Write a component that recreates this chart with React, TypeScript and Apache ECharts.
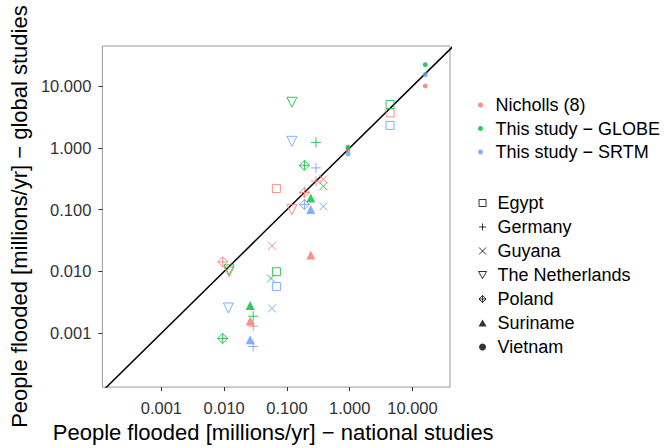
import React, { useEffect, useRef } from "react";
import * as echarts from "echarts";

// ---- data ----
const sources = ["Nicholls (8)", "This study − GLOBE", "This study − SRTM"];
const countries = ["Egypt", "Germany", "Guyana", "The Netherlands", "Poland", "Suriname", "Vietnam"];
const tickValues = [0.001, 0.01, 0.1, 1, 10];
const xRange = [1.15e-4, 39.6];
const yRange = [1.34e-4, 44.8];
const identityLine = [1e-6, 1e4];

// [country, national studies, global studies]
const nichollsPoints: [string, number, number][] = [
  ["Egypt", 4.4, 3.7], ["Egypt", 0.068, 0.22],
  ["Germany", 0.29, 0.29], ["Germany", 0.029, 0.0013],
  ["Guyana", 0.38, 0.31], ["Guyana", 0.058, 0.026],
  ["The Netherlands", 0.12, 0.10], ["The Netherlands", 0.012, 0.0098],
  ["Poland", 0.19, 0.19], ["Poland", 0.0095, 0.0143],
  ["Suriname", 0.24, 0.0184], ["Suriname", 0.026, 0.00157],
  ["Vietnam", 16, 10.1], ["Vietnam", 0.94, 0.93],
];
const globePoints: [string, number, number][] = [
  ["Egypt", 4.4, 5.05], ["Egypt", 0.068, 0.0099],
  ["Germany", 0.29, 1.23], ["Germany", 0.029, 0.00188],
  ["Guyana", 0.38, 0.24], ["Guyana", 0.056, 0.0077],
  ["The Netherlands", 0.12, 5.5], ["The Netherlands", 0.012, 0.0106],
  ["Poland", 0.19, 0.524], ["Poland", 0.0095, 0.00082],
  ["Suriname", 0.24, 0.155], ["Suriname", 0.026, 0.0028],
  ["Vietnam", 16, 22.3], ["Vietnam", 0.94, 1.03],
];
const srtmPoints: [string, number, number][] = [
  ["Egypt", 4.4, 2.32], ["Egypt", 0.068, 0.0057],
  ["Germany", 0.29, 0.476], ["Germany", 0.029, 0.00061],
  ["Guyana", 0.38, 0.113], ["Guyana", 0.058, 0.00252],
  ["The Netherlands", 0.12, 1.28], ["The Netherlands", 0.0117, 0.00256],
  ["Poland", 0.19, 0.122],
  ["Suriname", 0.24, 0.101], ["Suriname", 0.026, 0.00078],
  ["Vietnam", 16, 15.5], ["Vietnam", 0.94, 0.80],
];
const sourcePoints = [nichollsPoints, globePoints, srtmPoints];

// ---- styles ----
const sourceColors = ["#F8766D", "#00BA38", "#619CFF"];
const FONT = "'Liberation Sans', Arial, Helvetica, sans-serif";
const SQUARE = "path://M0,0L10,0L10,10L0,10Z";
const PLUS = "path://M5,0L5,10M0,5L10,5";
const CROSS = "path://M0,0L10,10M10,0L0,10";
const DOWN_TRI = "path://M0,0L10,0L5,8.66Z";
const UP_TRI = "path://M5,0L10,8.66L0,8.66Z";
const DIAMOND_PLUS = "path://M5,0L10,5L5,10L0,5ZM5,0L5,10M0,5L10,5";

const shapes: Record<string, { symbol: string; size: number; filled: boolean }> = {
  Egypt: { symbol: SQUARE, size: 8, filled: false },
  Germany: { symbol: PLUS, size: 10, filled: false },
  Guyana: { symbol: CROSS, size: 8, filled: false },
  "The Netherlands": { symbol: DOWN_TRI, size: 10, filled: false },
  Poland: { symbol: DIAMOND_PLUS, size: 10, filled: false },
  Suriname: { symbol: UP_TRI, size: 9, filled: true },
  Vietnam: { symbol: "circle", size: 5, filled: true },
};

export default function App() {
  const ref = useRef<HTMLDivElement>(null);
  useEffect(() => {
    if (!ref.current) return;
    const chart = echarts.init(ref.current, undefined, { renderer: "svg" });

    const pointSeries = sources.map((name, si) => ({
      type: "scatter",
      name,
      itemStyle: { color: sourceColors[si] },
      z: 3,
      data: sourcePoints[si].map(([country, x, y]) => {
        const s = shapes[country];
        const c = sourceColors[si];
        return {
          name: country,
          value: [x, y],
          symbol: s.symbol,
          symbolSize: s.size,
          itemStyle: s.filled
            ? { color: c, borderWidth: 0 }
            : { color: "rgba(0,0,0,0)", borderColor: c, borderWidth: 1 },
        };
      }),
    }));

    const countrySeries = countries.map((name) => ({
      type: "scatter",
      name,
      data: [],
      itemStyle: { color: "#000" },
    }));

    const option: any = {
      animation: false,
      backgroundColor: "#fff",
      textStyle: { fontFamily: FONT },
      grid: {
        left: 101, top: 46, width: 349, height: 348,
        show: true, borderColor: "#999", borderWidth: 1, backgroundColor: "#fff",
      },
      xAxis: {
        type: "log", logBase: 10, min: xRange[0], max: xRange[1],
        name: "People flooded [millions/yr] − national studies",
        nameLocation: "middle", nameGap: 27,
        nameTextStyle: { fontSize: 22, color: "#000", fontFamily: FONT, padding: [0, 6, 0, 0] },
        axisLine: { show: false },
        axisTick: { show: true, length: 4, customValues: tickValues, lineStyle: { color: "#333" } },
        axisLabel: {
          customValues: tickValues, fontSize: 16.5, color: "#333", margin: 12, fontFamily: FONT,
          formatter: (v: number) => v.toFixed(3),
        },
        splitLine: { show: false },
        minorTick: { show: false },
      },
      yAxis: {
        type: "log", logBase: 10, min: yRange[0], max: yRange[1],
        name: "People flooded [millions/yr] − global studies",
        nameLocation: "middle", nameGap: 65,
        nameTextStyle: { fontSize: 22, color: "#000", fontFamily: FONT },
        axisLine: { show: false },
        axisTick: { show: true, length: 4, customValues: tickValues, lineStyle: { color: "#333" } },
        axisLabel: {
          customValues: tickValues, fontSize: 16.5, color: "#333", margin: 11, fontFamily: FONT,
          formatter: (v: number) => v.toFixed(3),
        },
        splitLine: { show: false },
      },
      legend: [
        {
          orient: "vertical", left: 473, top: 91, itemGap: 5.5,
          itemWidth: 20, itemHeight: 5, selectedMode: false,
          textStyle: { fontSize: 18, color: "#000", fontFamily: FONT },
          data: sources.map((name) => ({ name, icon: "circle" })),
        },
        {
          orient: "vertical", left: 473, top: 189, itemGap: 6,
          itemWidth: 20, itemHeight: 7, selectedMode: false,
          textStyle: { fontSize: 18, color: "#000", fontFamily: FONT },
          data: countries.map((name) => {
            const s = shapes[name];
            return {
              name,
              icon: s.symbol,
              itemStyle: s.filled
                ? { color: "#000", borderWidth: 0 }
                : { color: "rgba(0,0,0,0)", borderColor: "#000", borderWidth: 1 },
            };
          }),
        },
      ],
      series: [
        {
          type: "line",
          name: "identity",
          data: [[identityLine[0], identityLine[0]], [identityLine[1], identityLine[1]]],
          symbol: "none",
          silent: true,
          clip: true,
          z: 2,
          lineStyle: { color: "#000", width: 1.5 },
        },
        ...pointSeries,
        ...countrySeries,
      ],
    };
    chart.setOption(option);
    return () => chart.dispose();
  }, []);
  return <div ref={ref} style={{ width: 664, height: 448, position: "absolute", left: 0, top: 0 }} />;
}
